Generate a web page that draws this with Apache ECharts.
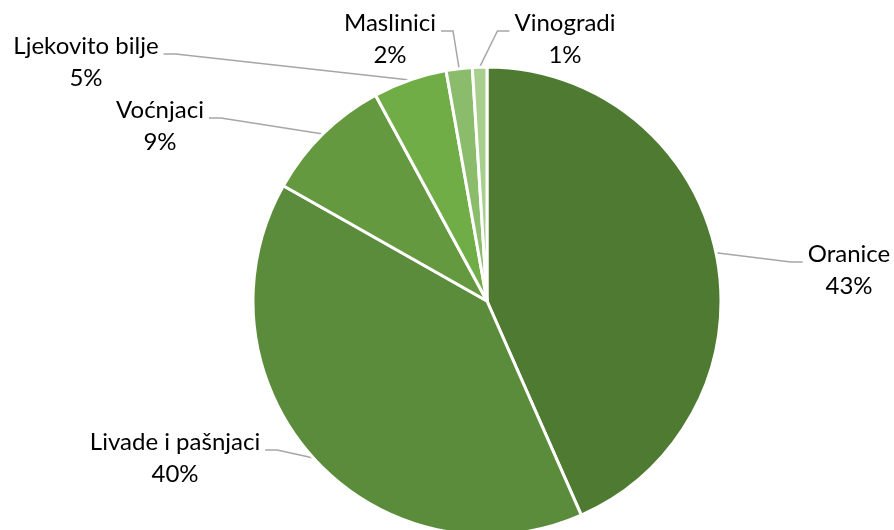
<!DOCTYPE html>
<html>
<head>
<meta charset="utf-8">
<script src="https://cdn.jsdelivr.net/npm/echarts@6/dist/echarts.min.js"></script>
<style>
  html, body { margin: 0; padding: 0; background: #ffffff; }
  #chart { width: 894px; height: 530px; }
</style>
</head>
<body>
<div id="chart"></div>
<script>
// ---- data ----
const categories = ['Oranice', 'Livade i pašnjaci', 'Voćnjaci', 'Ljekovito bilje', 'Maslinici', 'Vinogradi'];
const values = [43.4, 39.8, 8.9, 5.1, 1.8, 1.0];

// ---- styles / layout ----
const sliceColors = ['#4e7b31', '#5b8c3b', '#64993f', '#70ad47', '#8bbc6c', '#a8cf8e'];
const pieCenter = [487, 301];
const pieRadius = 234;
// label block centres and the side on which the leader line attaches
const labelPos = [[849, 270], [175, 458], [160, 126], [86, 62], [390, 39], [565, 39]];
const labelSide = ['right', 'left', 'left', 'left', 'left', 'right'];
const FONT = 'Lato';
const FONT_SIZE = 24;
const LINE_H = 32;

const total = values.reduce((a, b) => a + b, 0);
function edgePoint(i) {
  let cum = 0;
  for (let k = 0; k < i; k++) cum += values[k];
  const mid = (cum + values[i] / 2) / total * Math.PI * 2;
  return [pieCenter[0] + pieRadius * Math.sin(mid), pieCenter[1] - pieRadius * Math.cos(mid)];
}

const chart = echarts.init(document.getElementById('chart'), null, { renderer: 'canvas' });
chart.setOption({
  backgroundColor: '#ffffff',
  animation: false,
  series: [{
    type: 'pie',
    center: pieCenter,
    radius: pieRadius,
    startAngle: 90,
    clockwise: true,
    avoidLabelOverlap: false,
    data: categories.map((c, i) => ({ name: c, value: values[i], itemStyle: { color: sliceColors[i] } })),
    itemStyle: { borderColor: '#ffffff', borderWidth: 3 },
    emphasis: { disabled: true },
    label: {
      show: true,
      position: 'outside',
      formatter: p => p.name + '\n' + Math.round(p.percent) + '%',
      fontFamily: FONT,
      fontSize: FONT_SIZE,
      lineHeight: LINE_H,
      color: '#000000',
      align: 'center'
    },
    labelLine: {
      show: true,
      length: 10,
      length2: 10,
      lineStyle: { color: '#a6a6a6', width: 1.5 }
    },
    labelLayout: function (params) {
      const i = params.dataIndex;
      const pos = labelPos[i];
      const w = params.labelRect.width;
      const baseY = pos[1] - 8;
      let start = (params.labelLinePoints && params.labelLinePoints[0]) ? params.labelLinePoints[0] : edgePoint(i);
      let endX, bendX;
      if (labelSide[i] === 'right') {
        endX = pos[0] - w / 2 - 5;
        bendX = endX - 12;
      } else {
        endX = pos[0] + w / 2 + 5;
        bendX = endX + 12;
      }
      return {
        x: pos[0],
        y: pos[1],
        align: 'center',
        verticalAlign: 'middle',
        labelLinePoints: [start, [bendX, baseY], [endX, baseY]]
      };
    }
  }]
});
</script>
</body>
</html>
